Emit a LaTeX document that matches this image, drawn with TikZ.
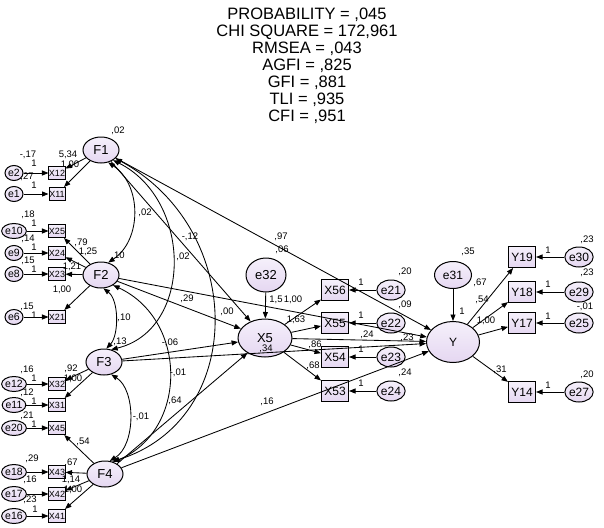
\documentclass[tikz,border=0pt]{standalone}
\usepackage{fontspec}
\setmainfont{Liberation Sans}
\usetikzlibrary{arrows.meta,shapes.geometric}
\definecolor{lavA}{RGB}{245,240,251}
\definecolor{lavB}{RGB}{229,215,241}
\begin{document}
\begin{tikzpicture}[x=1pt,y=-1pt,line width=0.85pt,
  >={Triangle[length=6.5pt,width=5pt]},
  lat/.style={ellipse,draw,line width=1pt,top color=lavA,bottom color=lavB,inner sep=0pt,
    minimum width=36pt,minimum height=26pt,font=\fontsize{13}{13}\selectfont},
  big/.style={lat,minimum width=54pt,minimum height=38pt},
  err/.style={lat,minimum width=25pt,minimum height=20pt,font=\fontsize{12}{12}\selectfont},
  errS/.style={lat,minimum width=18pt,minimum height=15pt,font=\fontsize{10.5}{10.5}\selectfont},
  obs/.style={rectangle,draw,line width=1pt,top color=lavA,bottom color=lavB,inner sep=0pt,
    minimum width=27pt,minimum height=21pt,font=\fontsize{12}{12}\selectfont},
  obsS/.style={obs,minimum width=16pt,minimum height=13pt,font=\fontsize{9}{9}\selectfont},
  lbl/.style={inner sep=0pt,font=\fontsize{9.5}{9.5}\selectfont},
  cov/.style={<->}]
	\useasboundingbox (0,0) rectangle (604,527);
	% fit indices
	\node[align=center,inner sep=0pt,anchor=north,font=\fontsize{16.5}{17}\selectfont] (fit) at (307,8)
	{PROBABILITY = ,045\\CHI SQUARE = 172,961\\RMSEA = ,043\\AGFI = ,825\\GFI = ,881\\TLI = ,935\\CFI = ,951};
	% latent factors
	\node[lat] (F1) at (101,150) {F1};
	\node[lat] (F2) at (101,275) {F2};
	\node[lat] (F3) at (104,362) {F3};
	\node[lat] (F4) at (105,474) {F4};
	\node[big] (X5) at (265,338) {X5};
	\node[big,minimum width=53pt,minimum height=41pt,font=\fontsize{12}{12}\selectfont] (Y) at (453,342) {Y};
	\node[lat,minimum width=40pt,minimum height=34pt] (e32) at (266,275) {e32};
	\node[lat,minimum width=37pt,minimum height=27pt,font=\fontsize{12}{12}\selectfont] (e31) at (453,275) {e31};
	% indicators on the left
	\foreach \x/\e/\y in {X12/e2/173,X11/e1/194,X25/e10/231,X24/e9/253,X23/e8/274,X21/e6/317,
		X32/e12/384,X31/e11/405,X45/e20/428,X43/e18/472,X42/e17/494,X41/e16/516}{
		\node[obsS] (\x) at (57,\y) {\x};
		\node[errS] (\e) at (14,\y) {\e};
		\draw[->] (\e) -- (\x);
	}
	\foreach \f/\x in {F1/X12,F1/X11,F2/X25,F2/X24,F2/X23,F2/X21,F3/X32,F3/X31,
		F4/X45,F4/X43,F4/X42,F4/X41}
	\draw[->] (\f) -- (\x);
	% indicators of X5 and Y
	\foreach \x/\e/\y in {X56/e21/290,X55/e22/323,X54/e23/357,X53/e24/391}{
		\node[obs] (\x) at (335,\y) {\x};
		\node[err] (\e) at (391,\y) {\e};
		\draw[->] (\e) -- (\x);
		\draw[->] (X5) -- (\x);
	}
	\foreach \x/\e/\y in {Y19/e30/257,Y18/e29/292,Y17/e25/323,Y14/e27/392}{
		\node[obs] (\x) at (522,\y) {\x};
		\node[err] (\e) at (579,\y) {\e};
		\draw[->] (\e) -- (\x);
		\draw[->] (Y) -- (\x);
	}
	% structural paths
	\foreach \f in {F1,F2,F3,F4,e32}
	\draw[->] (\f) -- (X5);
	\foreach \f in {F1,F2,F3,F4,X5,e31}
	\draw[->] (\f) -- (Y);
	% covariances
	\draw[cov] (F1.-60) .. controls (142,185) and (142,240) .. (F2.60);
	\draw[cov] (F1.-40) .. controls (193,200) and (193,330) .. (F3.60);
	\draw[cov] (F1.-30) .. controls (247,230) and (247,420) .. (F4.60);
	\draw[cov] (F2.-80) .. controls (119,300) and (119,335) .. (F3.80);
	\draw[cov] (F2.-40) .. controls (188,320) and (188,430) .. (F4.55);
	\draw[cov] (F3.-60) .. controls (136,390) and (136,445) .. (F4.70);
	% estimates
	\foreach \t/\px/\py [count=\i] in {{-,17}/28/155,1/34/163,{,27}/27/177,1/34/185,{5,34}/68/155,{1,00}/70/165,
		{,02}/118/131,{,18}/28/215,1/34/223,{,14}/28/239,1/34/247,{,15}/28/261,1/34/269,
		{,79}/81/243,{1,25}/88/252,{1,21}/72/267,{1,00}/62/290,{,10}/118/256,{,15}/27/307,1/34/315,
		{,13}/120/342,{,16}/27/370,1/34/378,{,92}/71/369,{1,00}/73/379,{,12}/27/393,1/34/401,
		{,21}/27/416,1/34/424,{,54}/83/442,{,29}/32/459,{,67}/71/463,{,16}/30/480,{1,14}/71/480,
		{1,00}/73/490,{,23}/30/500,1/35/509,
		{,02}/145/213,{,02}/183/257,{,00}/227/312,{,10}/124/318,{-,01}/178/373,{-,01}/141/417,
		{-,12}/190/237,{,97}/281/237,{,06}/282/250,{,29}/187/299,{-,06}/170/343,{,64}/175/401,{,16}/267/402,
		{1,5}/276/300,{1,00}/293/300,{,34}/266/349,{1,63}/296/320,{,86}/315/345,{,68}/313/366,{,24}/367/335,
		1/361/282,1/361/315,1/361/349,1/361/383,{,20}/405/272,{,09}/405/305,{,23}/407/338,{,24}/405/373,
		{,35}/468/252,1/462/311,{,67}/480/283,{,54}/482/300,{1,00}/486/321,{,31}/500/370,
		1/548/250,1/548/284,1/548/316,1/548/385,{,23}/587/240,{,23}/587/273,{-,01}/585/307,{,20}/587/375}
	\node[lbl] (est\i) at (\px,\py) {\t};
\end{tikzpicture}
\end{document}
